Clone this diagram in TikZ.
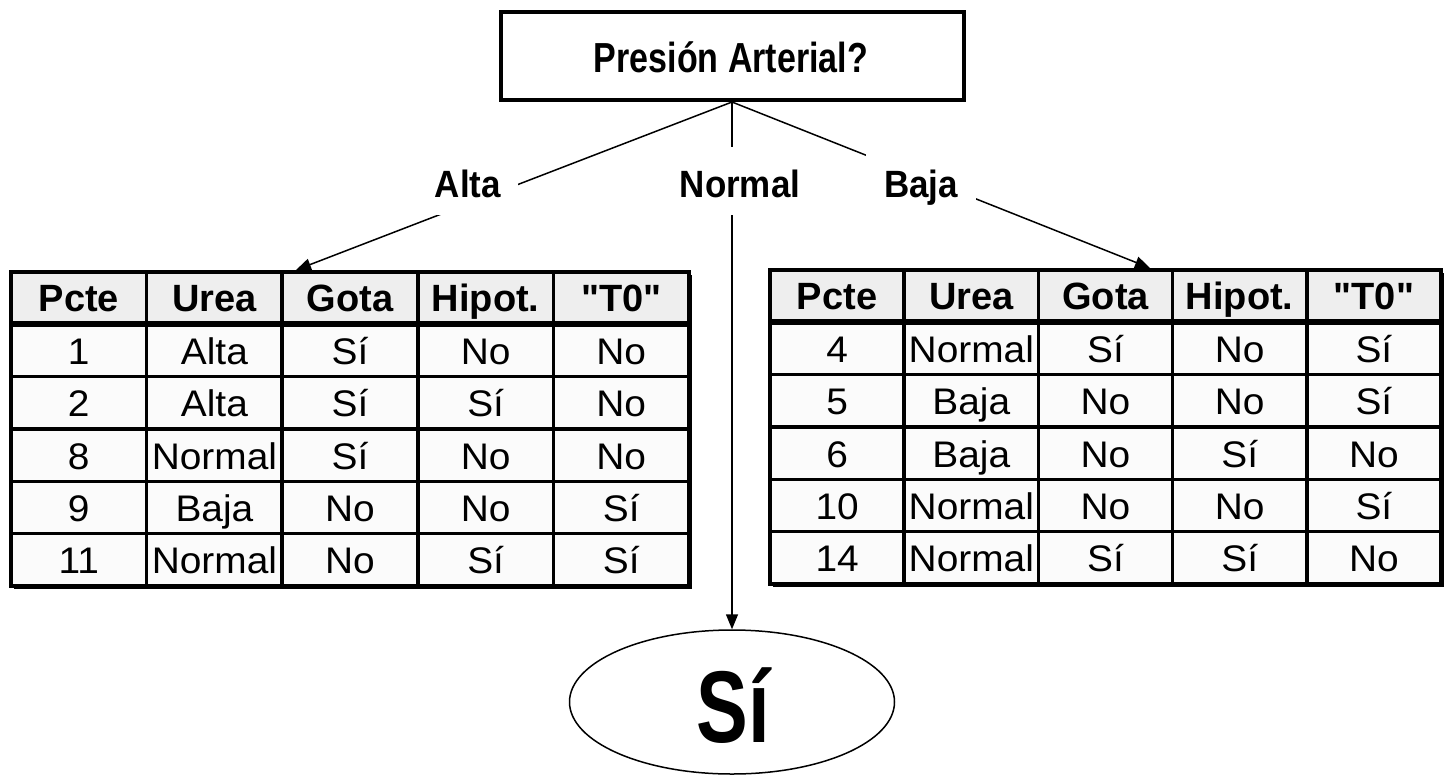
\documentclass[tikz,border=0pt]{standalone}
\usepackage{fontspec}
\setmainfont{Liberation Sans}
\newfontfamily\hdrfont{Liberation Sans}
\newfontfamily\bodyfont[FakeStretch=1.05]{Liberation Sans}
\newfontfamily\titlefont[FakeStretch=0.81]{Liberation Sans}
\newfontfamily\labfont[FakeStretch=0.92]{Liberation Sans}
\newfontfamily\bigfont[FakeStretch=0.76]{Liberation Sans}
\usetikzlibrary{arrows.meta,shapes.geometric}
\definecolor{hdrfill}{HTML}{EEEEEE}
\definecolor{bodyfill}{HTML}{FBFBFB}
\tikzset{
  innerline/.style={line width=3.5pt,black},
  hdrline/.style={line width=6pt,black},
  outerline/.style={line width=4.5pt,black},
  shadowline/.style={line width=2.5pt,black},
  hdrtext/.style={inner sep=0pt,anchor=base,font=\hdrfont\fontsize{38pt}{40pt}\selectfont\bfseries},
  celltext/.style={inner sep=0pt,anchor=base,font=\bodyfont\fontsize{37pt}{39pt}\selectfont},
  conn/.style={line width=1.5pt,black},
  tip/.style={-{Triangle[length=15pt,width=12pt]}},
  lab/.style={fill=white,inner xsep=17pt,minimum height=68pt,text height=36pt,text depth=4pt,
              font=\labfont\fontsize{38pt}{40pt}\selectfont\bfseries},
}
\newcommand\mktable[6]{%
  \pgfmathsetmacro\cw{(#4-#2)/5}%
  \pgfmathsetmacro\rh{(#5-#3)/6}%
  \fill[hdrfill] (#2,#3) rectangle (#4,{#3+\rh});
  \fill[bodyfill] (#2,{#3+\rh}) rectangle (#4,#5);
  \foreach \k in {1,...,4} \draw[innerline] ({#2+\k*\cw},#3) -- ({#2+\k*\cw},#5);
  \foreach \k in {2,...,5} \draw[innerline] (#2,{#3+\k*\rh}) -- (#4,{#3+\k*\rh});
  \draw[hdrline] (#2,{#3+\rh}) -- (#4,{#3+\rh});
  \draw[outerline] (#2,#3) rectangle (#4,#5);
  \draw[shadowline] ({#4+2},{#3+3}) -- ({#4+2},{#5+2}) -- ({#2+3},{#5+2});
  \foreach \hd [count=\ci] in {Pcte,Urea,Gota,Hipot.,"T0"}
    \node[hdrtext] (#1-0-\ci) at ({#2+(\ci-0.5)*\cw},{#3+0.5*\rh+13.5}) {\hd};
  \foreach \row [count=\ri] in {#6} {
    \foreach \cell [count=\ci] in \row
      \node[celltext] (#1-\ri-\ci) at ({#2+(\ci-0.5)*\cw},{#3+(\ri+0.5)*\rh+14}) {\cell};
  }
}
\begin{document}
\begin{tikzpicture}[x=1pt,y=-1pt]
\useasboundingbox (0,0) rectangle (1451,774);
\fill[white] (0,0) rectangle (1451,774);

% root box
\node[draw,line width=4pt,minimum width=463pt,minimum height=88pt,inner sep=0pt] (top) at (732,56) {};
\node[inner sep=0pt,anchor=base,font=\titlefont\fontsize{42pt}{44pt}\selectfont\bfseries] (title) at (731,72) {Presión Arterial?};

% tables
\mktable{L}{11}{272}{689}{586}{{1,Alta,Sí,No,No},{2,Alta,Sí,Sí,No},{8,Normal,Sí,No,No},{9,Baja,No,No,Sí},{11,Normal,No,Sí,Sí}}
\mktable{R}{770}{270}{1441}{584}{{4,Normal,Sí,No,Sí},{5,Baja,No,No,Sí},{6,Baja,No,Sí,No},{10,Normal,No,No,Sí},{14,Normal,Sí,Sí,No}}

% leaf
\node[ellipse,draw,line width=1.5pt,minimum width=325pt,minimum height=144pt,inner sep=0pt] (leaf) at (732,702) {};
\node[inner sep=0pt,anchor=base,font=\bigfont\fontsize{102pt}{104pt}\selectfont\bfseries] (si) at (733,742) {Sí};

% connectors
\coordinate (tipL) at (296,270);
\coordinate (tipR) at (1150,268);
\draw[conn,tip] (top.south) -- (tipL);
\draw[conn,tip] (top.south) -- (leaf.north);
\draw[conn,tip] (top.south) -- (tipR);

% branch labels (mask the lines)
\node[lab] (alta) at (468,181) {Alta};
\node[lab] (normal) at (740,181) {Normal};
\node[lab,inner xsep=18pt] (baja) at (921,181) {Baja};
\end{tikzpicture}
\end{document}
